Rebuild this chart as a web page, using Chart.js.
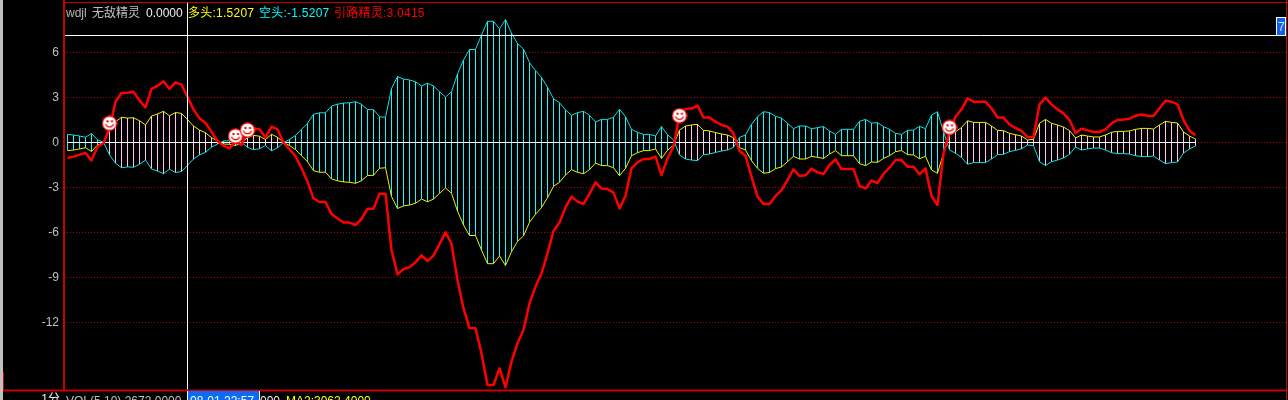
<!DOCTYPE html>
<html><head><meta charset="utf-8">
<style>html,body{margin:0;padding:0;background:#000;overflow:hidden}canvas{display:block}</style>
<script src="https://cdn.jsdelivr.net/npm/chart.js@4"></script>
</head><body>
<canvas id="c" width="1288" height="400"></canvas>
<script>
const yTicks=[6,3,0,-3,-6,-9,-12];
const duoTou=[
-.54,-.5,-.43,-.35,-.6,-.17,-.02,.83,1.38,1.68,
1.63,1.65,1.45,1.17,1.77,1.9,2.08,1.78,2,1.94,
1.5207,1.1,.83,.65,.32,.1,-.1,-.12,-.2,-.02,
.32,.48,.42,.2,.55,.35,0,-.2,-.47,-.88,
-1.28,-1.88,-1.98,-1.98,-2.43,-2.55,-2.63,-2.65,-2.72,-2.55,
-2.2,-2.19,-1.72,-1.68,-3.6,-4.4,-4.23,-4.17,-4.05,-3.77,
-3.95,-3.77,-3.39,-3.03,-3.39,-4.57,-5.5,-6.2,-6.2,-7.17,
-8.08,-8.08,-7.57,-8.2,-7.28,-6.6,-6.23,-5.32,-4.79,-4.34,
-3.68,-2.92,-2.65,-2.17,-1.81,-1.99,-2.08,-1.81,-1.37,-1.54,
-1.54,-1.68,-2.21,-1.72,-.88,-.68,-.54,-.54,-.43,-1.06,
-.52,-.17,.83,1.1,1.17,1.21,.81,.77,.66,.57,
.5,.32,-.34,-.5,-1.21,-1.72,-2.05,-2,-1.74,-1.63,
-1.28,-.92,-1.1,-1.1,-.92,-.99,-1.06,-.77,-.54,-.88,
-.88,-.88,-1.41,-1.54,-1.3,-1.32,-1.06,-.88,-.61,-.54,
-.81,-.83,-1.08,-.92,-1.83,-2.05,-.72,.5,.72,1,
1.45,1.34,1.34,1.34,1.1,.81,.79,.61,.52,.43,
.17,.21,1.28,1.54,1.28,1.17,1.03,.79,.3,.5,
.43,.37,.37,.5,.68,.74,.74,.77,.88,.94,
.94,.9,1.17,1.41,1.34,1.3,.7,.43,.23];
const kongTou=[
.54,.5,.43,.35,.6,.17,.02,-.83,-1.38,-1.68,
-1.63,-1.65,-1.45,-1.17,-1.77,-1.9,-2.08,-1.78,-2,-1.94,
-1.5207,-1.1,-.83,-.65,-.32,-.1,.1,.12,.2,.02,
-.32,-.48,-.42,-.2,-.55,-.35,0,.2,.47,.88,
1.28,1.88,1.98,1.98,2.43,2.55,2.63,2.65,2.72,2.55,
2.2,2.19,1.72,1.68,3.6,4.4,4.23,4.17,4.05,3.77,
3.95,3.77,3.39,3.03,3.39,4.57,5.5,6.2,6.2,7.17,
8.08,8.08,7.57,8.2,7.28,6.6,6.23,5.32,4.79,4.34,
3.68,2.92,2.65,2.17,1.81,1.99,2.08,1.81,1.37,1.54,
1.54,1.68,2.21,1.72,.88,.68,.54,.54,.43,1.06,
.52,.17,-.83,-1.1,-1.17,-1.21,-.81,-.77,-.66,-.57,
-.5,-.32,.34,.5,1.21,1.72,2.05,2,1.74,1.63,
1.28,.92,1.1,1.1,.92,.99,1.06,.77,.54,.88,
.88,.88,1.41,1.54,1.3,1.32,1.06,.88,.61,.54,
.81,.83,1.08,.92,1.83,2.05,.72,-.5,-.72,-1,
-1.45,-1.34,-1.34,-1.34,-1.1,-.81,-.79,-.61,-.52,-.43,
-.17,-.21,-1.28,-1.54,-1.28,-1.17,-1.03,-.79,-.3,-.5,
-.43,-.37,-.37,-.5,-.68,-.74,-.74,-.77,-.88,-.94,
-.94,-.9,-1.17,-1.41,-1.34,-1.3,-.7,-.43,-.23];
const yinLu=[
-1.03,-.94,-.81,-.7,-1.19,-.28,-.05,.95,2.72,3.3,
3.32,3.39,2.79,2.34,3.57,3.77,4.08,3.57,4.01,3.86,
3.0415,2.21,1.61,1.3,.72,.1,-.21,-.39,.1,-.17,
.83,.94,.88,.34,1.06,.88,0,-.45,-.92,-1.7,
-2.61,-3.72,-3.97,-3.97,-4.77,-5.06,-5.34,-5.34,-5.5,-5.1,
-4.41,-4.41,-3.41,-3.41,-7.17,-8.79,-8.43,-8.32,-7.99,-7.52,
-7.9,-7.54,-6.77,-5.99,-6.75,-9.17,-11.06,-12.37,-12.39,-14.06,
-16.17,-16.17,-15.06,-16.32,-14.61,-13.39,-12.5,-10.72,-9.61,-8.72,
-7.39,-5.9,-5.34,-4.32,-3.61,-3.94,-4.1,-3.43,-2.66,-3.06,
-3.1,-3.34,-4.39,-3.57,-1.72,-1.32,-1.1,-1.1,-.94,-2.17,
-1.06,-.28,1.83,2.23,2.26,2.46,1.66,1.66,1.39,1.17,
1.06,.61,-.57,-.88,-2.28,-3.61,-4.1,-4.1,-3.57,-3.17,
-2.5,-1.79,-2.23,-2.19,-1.74,-1.99,-2.1,-1.5,-1.12,-1.77,
-1.77,-1.77,-2.9,-3.06,-2.54,-2.7,-2.1,-1.68,-1.17,-1.17,
-1.61,-1.61,-2.12,-1.72,-3.57,-4.17,-.72,.72,1.72,2.21,
2.94,2.72,2.72,2.72,2.28,1.66,1.66,1.21,.97,.77,
.37,.37,2.54,2.99,2.54,2.21,1.94,1.5,.63,.92,
.81,.7,.7,.88,1.28,1.5,1.54,1.59,1.79,1.86,
1.79,1.77,2.28,2.79,2.72,2.54,1.5,.79,.48];
const signalIndex=[7,28,30,102,147];
const signalValue=[1.28,.43,.83,1.79,1.01];
const zeroSpan=[0,188];
const crossIndex=20, crossValue=7.13;
const indices=duoTou.map((_,i)=>i);

const FONT='12px "Liberation Sans","Noto Sans CJK SC",sans-serif';
const RED='#c80000';

// smiley marker
const smile=document.createElement('canvas');smile.width=16;smile.height=16;
(function(){const g=smile.getContext('2d');
 g.fillStyle='#fff';g.strokeStyle='#f00';g.lineWidth=1.2;
 g.beginPath();g.arc(8,8,7.2,0,Math.PI*2);g.fill();g.stroke();
 g.fillStyle='#e00000';g.fillRect(5,5,2,2);g.fillRect(9.5,5,2,2);
 g.strokeStyle='#e00000';g.lineWidth=1.2;g.beginPath();g.arc(8,7.5,4.2,0.25,Math.PI-0.25);g.stroke();
})();

const chrome={id:'chrome',
 afterDatasetsDraw(ch){
  const g=ch.ctx,x=ch.scales.x,y=ch.scales.y;
  g.save();
  // crosshair
  const cx=Math.floor(x.getPixelForValue(crossIndex))+.5;
  const cy=Math.floor(y.getPixelForValue(crossValue))+.5;
  g.strokeStyle='#fff';g.lineWidth=1;
  g.beginPath();g.moveTo(cx,3);g.lineTo(cx,400);g.moveTo(64,cy);g.lineTo(1286,cy);g.stroke();
  // frame
  g.fillStyle='#c0c0c0';g.fillRect(0,0,3,400);
  g.fillStyle=RED;
  g.fillRect(3,389.5,1284,2);
  g.fillRect(63,0,2,391);
  g.fillRect(64,2,1224,1);
  g.fillRect(1286,0,1,400);
  g.fillRect(3,372,1,18);
  // value box on the right
  g.fillStyle='#fff';g.fillRect(1276,17,10,19);
  g.fillStyle='#0a64f0';g.fillRect(1277,18,8,17);
  g.font=FONT;g.textBaseline='alphabetic';g.textAlign='left';
  g.fillStyle='#cfe0ff';g.fillText('7',1278,31);
  // header
  const head=[['wdjl',66,'#b8b8b8'],['无敌精灵',92,'#c0c0c0'],['0.0000',146,'#f0f0f0'],
   ['多头:1.5207',188,'#ffff00'],['空头:-1.5207',259,'#00ffff'],['引路精灵:3.0415',334,'#ff0000']];
  head.forEach((t,i)=>{g.letterSpacing=i>2?'0.25px':'0px';g.fillStyle=t[2];g.fillText(t[0],t[1],17);});
  g.letterSpacing='0px';
  // bottom row
  g.fillStyle='#c0c0c0';g.fillText('VOL(5,10) 2672.0000',66,405);
  g.fillStyle='#f0f0f0';g.fillText('000',260,405);
  g.fillStyle='#ffff00';g.fillText('MA2:3062.4000',286,405);
  g.fillStyle='#f0f0f0';g.textAlign='right';g.fillText('1分',60,403);g.textAlign='left';
  g.fillStyle='#fff';g.fillRect(187,391,73,9);
  g.fillStyle='#0a6cf5';g.fillRect(188,391,71,9);
  g.fillStyle='#fff';g.fillText('08-01 22:57',190,405);
  g.restore();
 }};

new Chart(document.getElementById('c'),{
 type:'bar',
 plugins:[chrome],
 data:{labels:indices,datasets:[
  {type:'line',label:'signal',data:signalIndex.map((v,i)=>({x:v,y:signalValue[i]})),showLine:false,
   pointStyle:smile,pointRadius:8,order:0},
  {type:'line',label:'引路精灵',data:yinLu,borderColor:'#ff0000',borderWidth:2.5,pointRadius:0,tension:0,
   borderJoinStyle:'round',order:1},
  {type:'line',label:'wdjl',data:zeroSpan.map(v=>({x:v,y:0})),borderColor:'#ffffff',borderWidth:1,pointRadius:0,order:2},
  {type:'line',label:'多头',data:duoTou,borderColor:'#f0f000',borderWidth:1,pointRadius:0,tension:0,order:3},
  {type:'line',label:'空头',data:kongTou,borderColor:'#10e0e0',borderWidth:1,pointRadius:0,tension:0,order:4},
  {type:'bar',label:'柱',data:duoTou.map((v,i)=>[v,kongTou[i]]),barThickness:1,borderWidth:0,inflateAmount:0,
   backgroundColor:duoTou.map((v,i)=>v>=kongTou[i]?'#ffc8ea':'#20f4f4'),order:5}
 ]},
 options:{
  responsive:false,animation:false,devicePixelRatio:1,
  layout:{autoPadding:false,padding:{left:0,top:3,right:2,bottom:10}},
  plugins:{legend:{display:false},tooltip:{enabled:false},title:{display:false}},
  events:[],
  scales:{
   x:{type:'linear',display:false,min:-3.5/6,max:(1286-67.5)/6,offset:false,grid:{display:false}},
   y:{type:'linear',min:-16.5,max:9.3,position:'left',
    afterFit(s){s.width=64;s.paddingTop=0;s.paddingBottom=0;},
    afterBuildTicks(s){s.ticks=yTicks.map(v=>({value:v}));},
    border:{display:false,dash:[1,2]},
    grid:{color:'#b00000',lineWidth:1,drawTicks:false},
    ticks:{color:'#c0c0c0',padding:5,font:{family:'"Liberation Sans",sans-serif',size:12},autoSkip:false}
   }
  }
 }
});
</script>
</body></html>
